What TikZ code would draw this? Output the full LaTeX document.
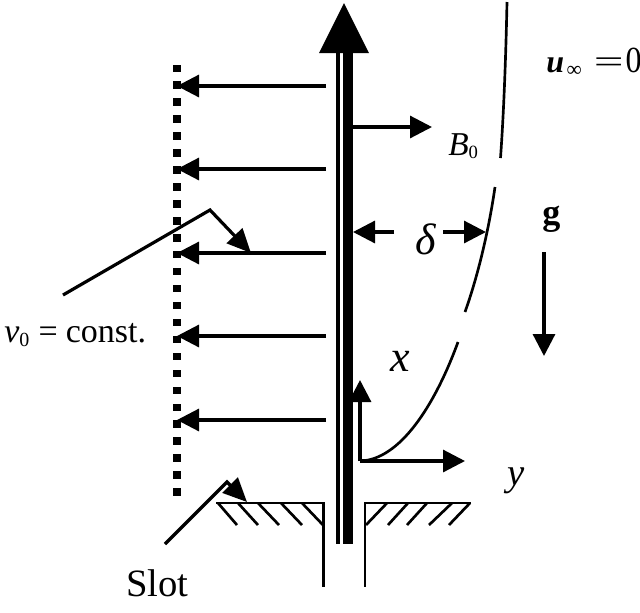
\documentclass[tikz,border=0pt]{standalone}
\usepackage{fontspec}
\usepackage{graphicx}
\setmainfont{Liberation Serif}
\usetikzlibrary{arrows.meta}
\tikzset{
  px/.style={x=0.75pt,y=-0.75pt},
  ln/.style={line width=2.4pt,black},
  thinln/.style={line width=2pt,black},
  arr/.style={ln,-{Triangle[length=16.5pt,width=16.5pt]}},
  ptr/.style={ln,-{Triangle[length=18pt,width=16pt]}},
  lbl/.style={inner sep=0pt,anchor=base west,font=\fontsize{#1}{#1}\selectfont},
  lbl/.default=21,
  sq/.style={fill=black,draw=none}
}
\begin{document}
\begin{tikzpicture}[px]
\useasboundingbox (0,0) rectangle (640,612);
% porous wall: dotted squares
\foreach \n in {0,...,25}{
  \fill[sq] (173,{64.5+16.95*\n}) rectangle (181,{72+16.95*\n});
}
% suction arrows
\foreach \yy in {86,169,253,336,420}{
  \coordinate (wallEnd) at (177,\yy);
  \coordinate (plateEnd) at (326,\yy);
  \draw[arr] (plateEnd) -- (wallEnd);
}
% plate
\fill[black] (336,53) rectangle (339.5,544);
\fill[black] (343,53) rectangle (353,544);
\fill[black] (344,3) -- (369,53) -- (319,53) -- cycle;
% B0 arrow
\coordinate (bStart) at (353,127);
\coordinate (bEnd) at (432,127);
\draw[arr] (bStart) -- (bEnd);
\node[lbl=25] (bLabel) at (448,155) {\textit{B}\raisebox{-2.5pt}{\fontsize{14}{14}\selectfont 0}};
% boundary layer edge
\draw[thinln] (507,2) .. controls (506,50) and (504,110) .. (500.5,158);
\draw[thinln] (495,187) .. controls (490,222) and (480,270) .. (465,312);
\draw[thinln] (458,342) .. controls (435,405) and (400,460) .. (360,461);
% delta arrows
\coordinate (dL1) at (394,232);
\coordinate (dL2) at (353,232);
\coordinate (dR1) at (443,232);
\coordinate (dR2) at (486,232);
\draw[arr] (dL1) -- (dL2);
\draw[arr] (dR1) -- (dR2);
\node[lbl=33] (delta) at (415,254) {\textit{δ}};
% axes
\coordinate (origin) at (360,461);
\coordinate (xEnd) at (360,380);
\coordinate (yEnd) at (465,461);
\draw[arr] (origin) -- (xEnd);
\draw[arr] (origin) -- (yEnd);
\node[lbl=33] (xLabel) at (390,371) {\textit{x}};
\node[lbl=29] (yLabel) at (507,485) {\textit{y}};
% gravity
\coordinate (gTop) at (544,252);
\coordinate (gEnd) at (544,356);
\draw[arr] (gTop) -- (gEnd);
\node[lbl=27] (gLabel) at (542,224) {\textbf{g}};
% u infinity
\node[lbl=24] (uLabel) at (546,72) {\textit{\textbf{u}}\hspace{2pt}\raisebox{-3.5pt}{\fontsize{16}{16}\selectfont ∞}\hspace{9pt}\scalebox{1.65}[1]{=}\hspace{1.5pt}\scalebox{1}[1.15]{0}};
% v0 pointer
\coordinate (vA) at (63,295);
\coordinate (vB) at (210,210);
\coordinate (vC) at (251,253);
\draw[ptr] (vA) -- (vB) -- (vC);
\node[lbl=25.5] (vLabel) at (4,342) {\textit{v}\raisebox{-3pt}{\fontsize{15}{15}\selectfont 0}\hspace{7pt}=\hspace{6pt}const.};
% slot ledge
\coordinate (la) at (216,503);
\coordinate (lb) at (323.5,503);
\coordinate (lc) at (323.5,587);
\coordinate (ra) at (471,503);
\coordinate (rb) at (365,503);
\coordinate (rc) at (365,587);
\draw[thinln,line join=miter] (la) -- (lb) -- (lc);
\draw[thinln,line join=miter] (ra) -- (rb) -- (rc);
\foreach \p/\q in {218/237,238/258,258/279,281/302,302/323}{
  \draw[thinln] (\p,503) -- (\q,525);
}
\foreach \p/\q in {387/366,408/388,427/407,452/429,470/449}{
  \draw[thinln] (\p,503) -- (\q,525);
}
% slot pointer
\coordinate (sA) at (165,544);
\coordinate (sB) at (227,482);
\coordinate (sC) at (247,502);
\draw[ptr] (sA) -- (sB) -- (sC);
\node[lbl=29] (slotLabel) at (126,596) {Slot};
\end{tikzpicture}
\end{document}
